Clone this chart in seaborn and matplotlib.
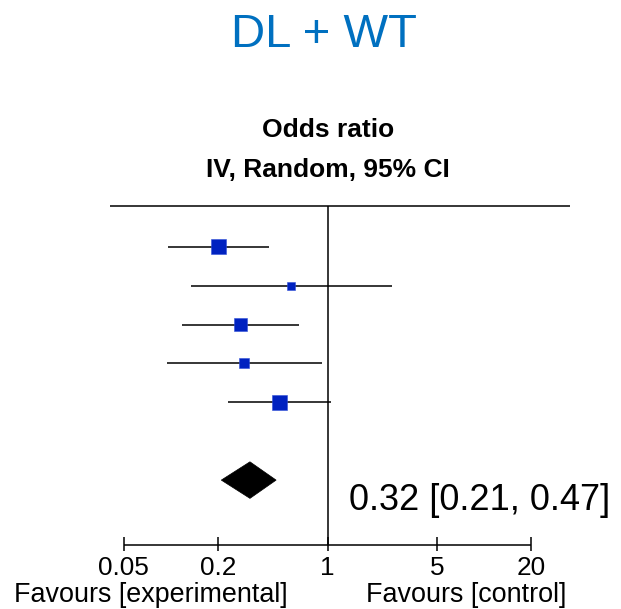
import numpy as np
import pandas as pd
import matplotlib
matplotlib.use("Agg")
import matplotlib.pyplot as plt
import matplotlib.transforms as mtransforms
from matplotlib.patches import Polygon
import seaborn as sns

# ---- data ----
studies = ["Study 1", "Study 2", "Study 3", "Study 4", "Study 5"]
odds_ratio = [0.202, 0.587, 0.278, 0.293, 0.492]
ci_lower = [0.0964, 0.1345, 0.1179, 0.0942, 0.233]
ci_upper = [0.423, 2.59, 0.658, 0.918, 1.048]
weights = [29.0, 8.3, 20.8, 12.9, 29.0]
pooled_or = 0.32
pooled_lo = 0.21
pooled_hi = 0.47
pooled_label = "0.32 [0.21, 0.47]"
tick_values = [0.05, 0.2, 1, 5, 20]
tick_labels = ["0.05", "0.2", "1", "5", "20"]
title = "DL + WT"
header1 = "Odds ratio"
header2 = "IV, Random, 95% CI"
fav_left = "Favours [experimental]"
fav_right = "Favours [control]"

df = pd.DataFrame({"study": studies, "or": odds_ratio, "lo": ci_lower,
                   "hi": ci_upper, "weight": weights})
df["row"] = np.arange(len(df))

sns.set_style("white")
plt.rcParams["font.family"] = ["Liberation Sans", "DejaVu Sans"]
plt.rcParams["text.color"] = "black"

W, H, DPI = 621, 609, 100
fig = plt.figure(figsize=(W / DPI, H / DPI), dpi=DPI)
ax = fig.add_axes([0, 0, 1, 1])
ax.set_xscale("log")
# layout: x=1 at 327.5 px, 156.7 px per decade; row 0 at 246.7 px, 38.9 px per row
x0, pxdec = 327.5, 156.7
ax.set_xlim(10 ** (-x0 / pxdec), 10 ** ((W - x0) / pxdec))
y0, pxrow = 246.7, 38.9
ax.set_ylim((H - y0) / pxrow, -y0 / pxrow)
ax.axis("off")

def fy(px):
    """pixel row from top -> figure fraction"""
    return 1 - px / H

def fx(px):
    return px / W

xdata_yfig = mtransforms.blended_transform_factory(ax.transData, fig.transFigure)

top_y = -1.054
axis_y = 7.66
pool_y = 6.0

lw = 1.1
# header line and null line
ax.hlines(top_y, 0.0407, 35.4, color="black", lw=lw)
ax.vlines(1, top_y, axis_y, color="black", lw=lw)

# CI lines
ax.hlines(df["row"], df["lo"], df["hi"], color="black", lw=lw, zorder=2)

# squares
def side_pts(w):
    return (15 * np.sqrt(w / 29.0)) * 72 / DPI

smin = side_pts(min(weights)) ** 2
smax = side_pts(max(weights)) ** 2
sns.scatterplot(data=df, x="or", y="row", size="weight", sizes=(smin, smax),
                marker="s", color="#0022C0", edgecolor="#3050D8", linewidth=0.4,
                legend=False, ax=ax, zorder=3)

# pooled diamond
hh = 0.47
diamond = Polygon([(pooled_lo, pool_y), (pooled_or, pool_y - hh),
                   (pooled_hi, pool_y), (pooled_or, pool_y + hh)],
                  closed=True, facecolor="black", edgecolor="black", lw=0.5)
ax.add_patch(diamond)
fig.text(fx(349), fy(509.5), pooled_label, ha="left", va="baseline", fontsize=26)

# bottom axis
ax.hlines(axis_y, tick_values[0], tick_values[-1], color="black", lw=lw)
ax.vlines(tick_values, axis_y - 0.2, axis_y + 0.16, color="black", lw=lw)
for v, lab in zip(tick_values, tick_labels):
    ax.text(v, fy(575), lab, transform=xdata_yfig, ha="center", va="baseline",
            fontsize=18.8)
fig.text(fx(288), fy(601.7), fav_left, ha="right", va="baseline", fontsize=19.4)
fig.text(fx(366.5), fy(601.7), fav_right, ha="left", va="baseline", fontsize=19.4)

# titles
fig.text(fx(324), fy(47), title, ha="center", va="baseline",
         fontsize=34, color="#0070C0")
fig.text(fx(328), fy(136.7), header1, ha="center", va="baseline",
         fontsize=19, fontweight="bold")
fig.text(fx(328), fy(177), header2, ha="center", va="baseline",
         fontsize=19, fontweight="bold")

fig.savefig("out.png", dpi=DPI)
